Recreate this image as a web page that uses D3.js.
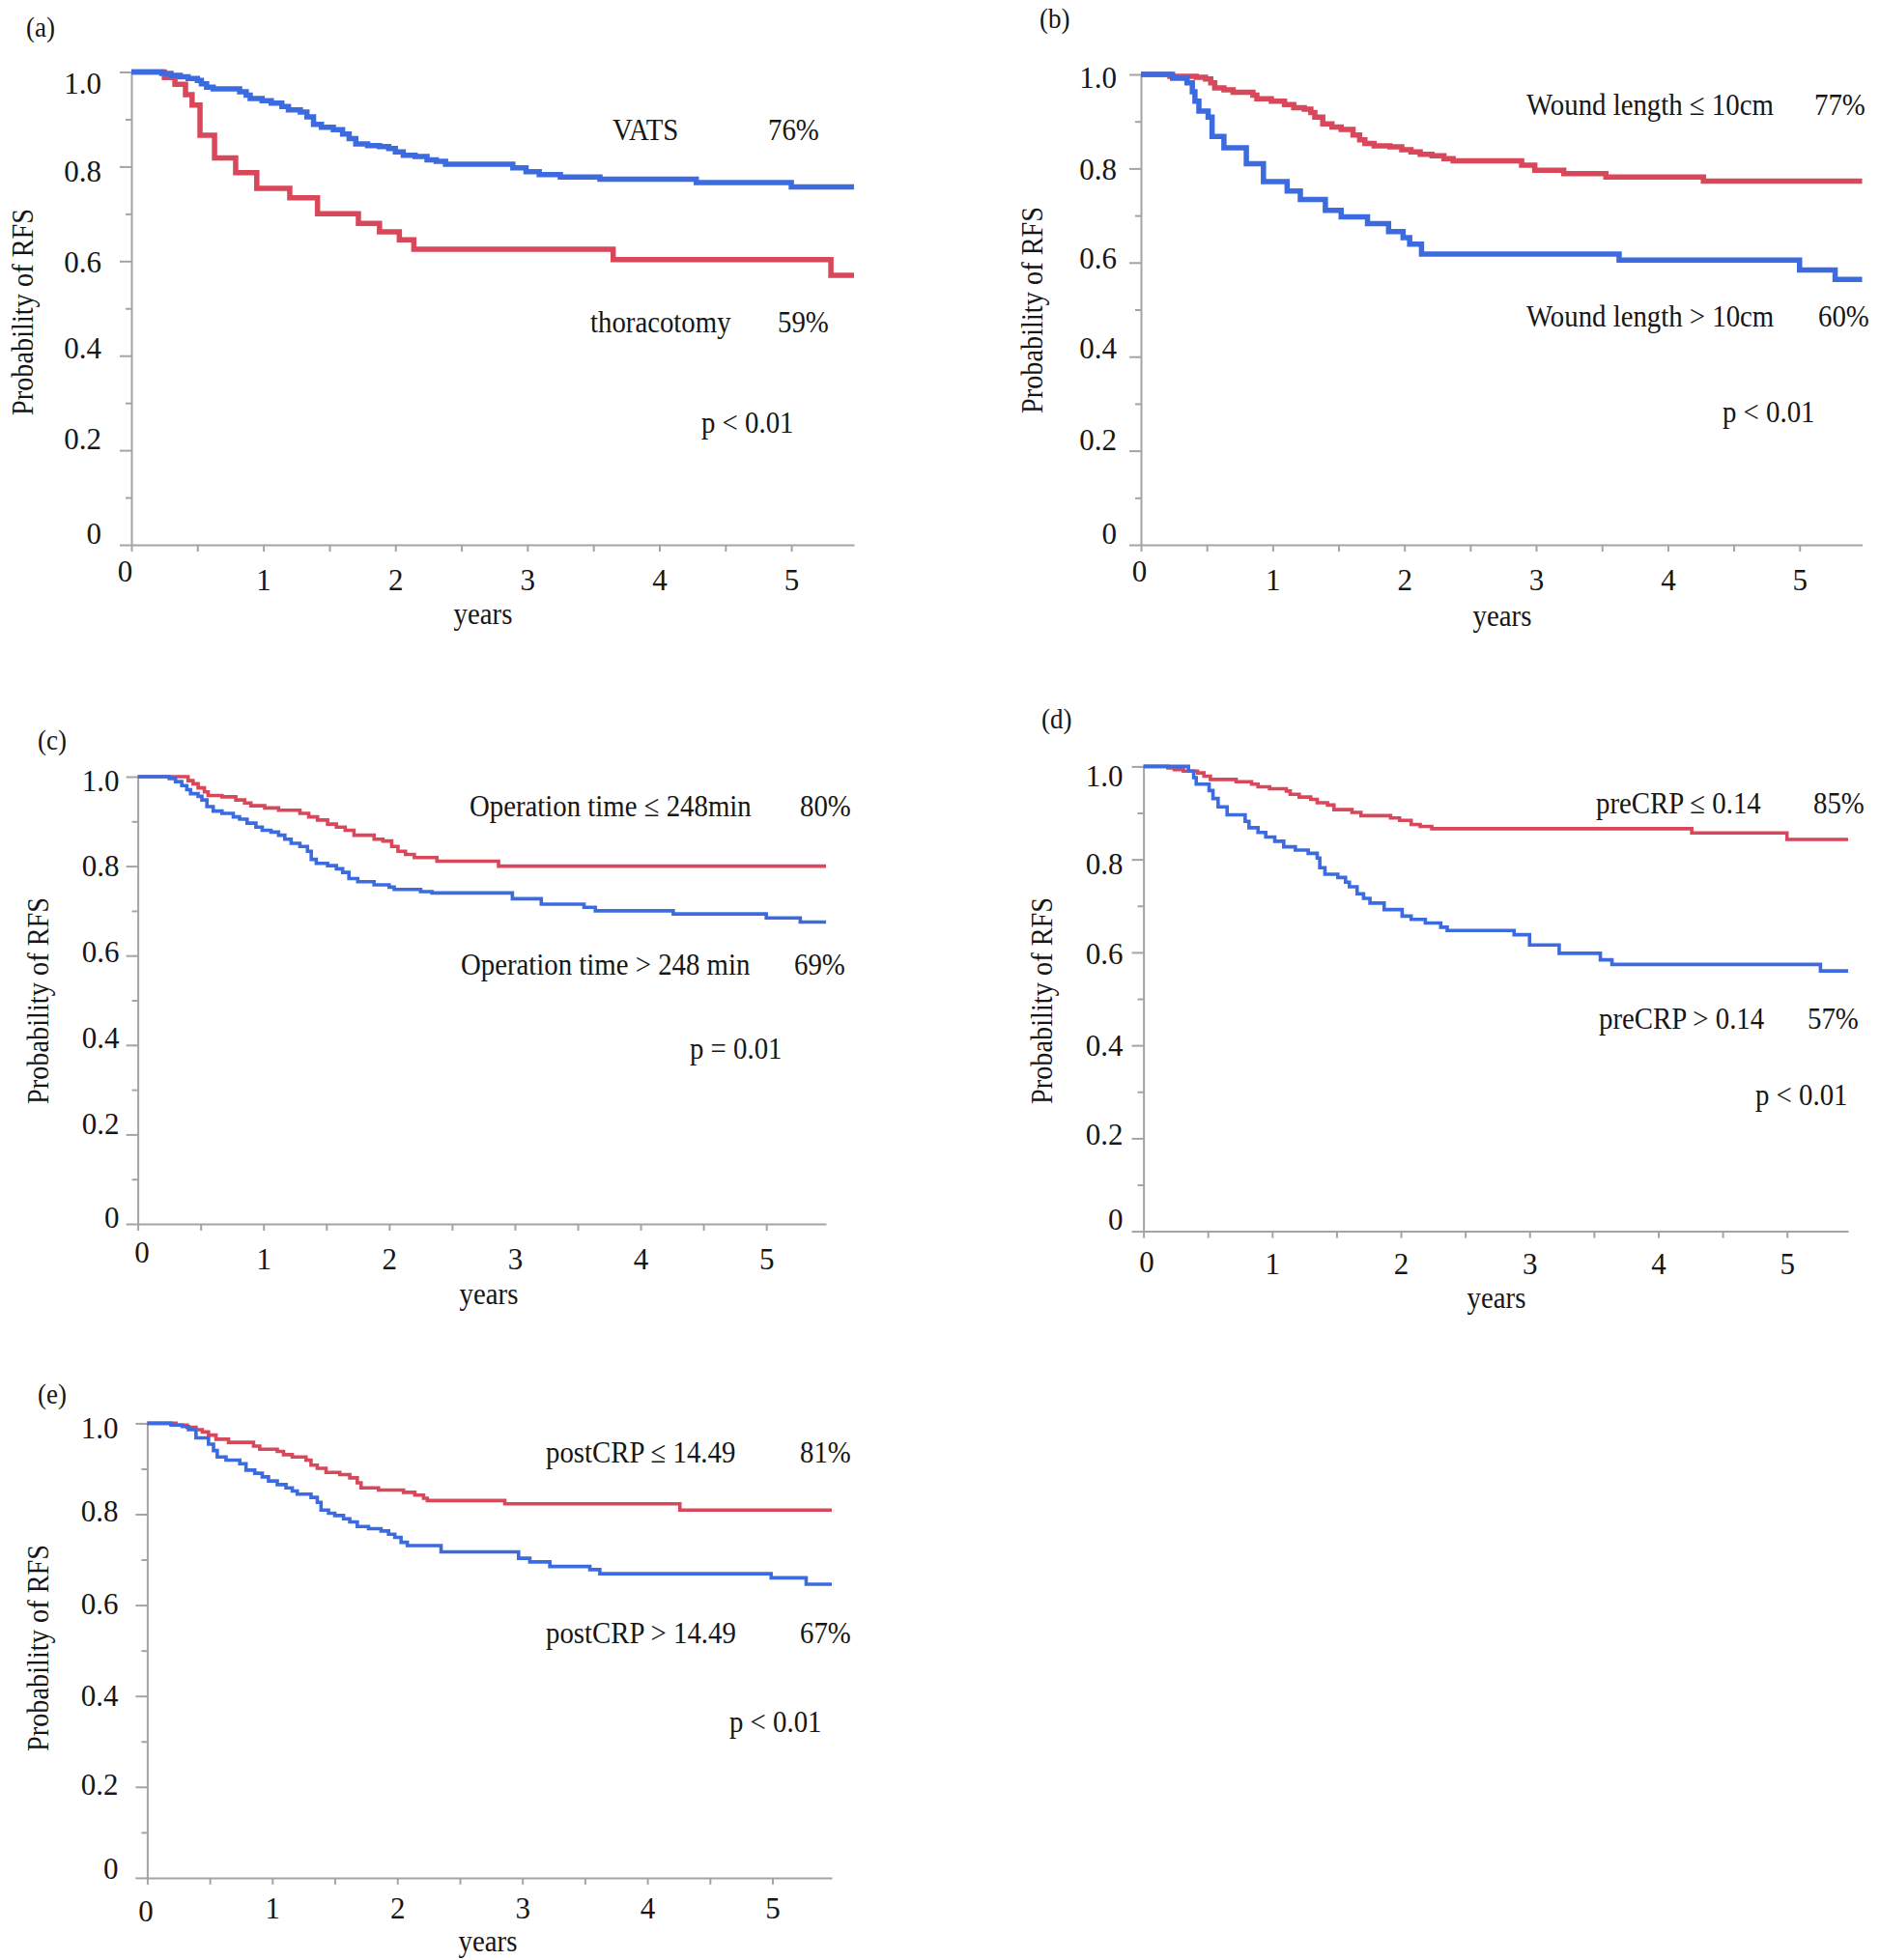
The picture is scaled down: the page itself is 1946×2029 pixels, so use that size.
<!DOCTYPE html>
<html><head><meta charset="utf-8">
<script src="https://cdn.jsdelivr.net/npm/d3@7"></script>
<style>
html,body{margin:0;padding:0;background:#fff;}
svg{display:block;font-family:"Liberation Serif","Times New Roman",serif;}
</style></head><body>
<svg id="chart" width="1946" height="2029"></svg>
<script>
// ---------------- DATA ----------------
const xMax = 5.475;
const xTickValues = [0,0.5,1,1.5,2,2.5,3,3.5,4,4.5,5];
const xTickLabels = ['0','1','2','3','4','5'];
const yTickValues = [0,0.1,0.2,0.3,0.4,0.5,0.6,0.7,0.8,0.9,1.0];
const yTickLabels = ['0','0.2','0.4','0.6','0.8','1.0'];
const yTitle = 'Probability of RFS';
const xTitle = 'years';
const panelIds = ['(a)','(b)','(c)','(d)','(e)'];

// (a) VATS vs thoracotomy
const vatsT = [0,0.23,0.30,0.37,0.43,0.50,0.53,0.57,0.62,0.82,0.87,0.90,0.99,1.06,1.14,1.19,1.28,1.33,1.38,1.44,1.53,1.60,1.65,1.70,1.79,1.88,1.95,2.00,2.06,2.15,2.24,2.31,2.38,2.89,2.99,3.09,3.25,3.55,4.28,5.00];
const vatsS = [1,0.997,0.993,0.99,0.986,0.982,0.975,0.968,0.964,0.958,0.951,0.944,0.939,0.934,0.927,0.920,0.915,0.905,0.889,0.883,0.878,0.869,0.859,0.848,0.844,0.842,0.838,0.831,0.824,0.821,0.814,0.811,0.805,0.797,0.789,0.783,0.778,0.773,0.766,0.757];
const thorT = [0,0.25,0.33,0.41,0.46,0.52,0.63,0.79,0.95,1.20,1.41,1.72,1.88,2.03,2.14,3.65,5.30];
const thorS = [1,0.988,0.974,0.952,0.93,0.866,0.818,0.787,0.754,0.734,0.70,0.68,0.662,0.645,0.625,0.603,0.57];
const legendA = ['VATS','thoracotomy'];
const pctA = ['76%','59%'];
const pA = 'p < 0.01';

// (b) Wound length
const woundLeT = [0,0.22,0.42,0.49,0.53,0.56,0.63,0.70,0.85,0.88,0.99,1.09,1.16,1.24,1.29,1.32,1.38,1.45,1.52,1.61,1.66,1.70,1.77,1.89,1.98,2.05,2.12,2.21,2.30,2.37,2.89,2.99,3.21,3.53,4.27];
const woundLeS = [1,0.996,0.994,0.990,0.982,0.971,0.967,0.962,0.956,0.948,0.943,0.936,0.929,0.926,0.919,0.909,0.895,0.888,0.883,0.871,0.861,0.853,0.848,0.846,0.840,0.835,0.830,0.827,0.821,0.816,0.807,0.796,0.789,0.782,0.773];
const woundGtT = [0,0.24,0.35,0.39,0.41,0.44,0.51,0.54,0.63,0.80,0.93,1.11,1.21,1.40,1.52,1.72,1.88,1.99,2.04,2.13,3.63,5.00,5.27];
const woundGtS = [1,0.992,0.982,0.963,0.943,0.922,0.909,0.868,0.844,0.81,0.772,0.752,0.734,0.711,0.697,0.683,0.666,0.653,0.639,0.618,0.605,0.584,0.564];
const legendB = ['Wound length \u2264 10cm','Wound length > 10cm'];
const pctB = ['77%','60%'];
const pB = 'p < 0.01';

// (c) Operation time
const opLeT = [0,0.40,0.44,0.48,0.53,0.56,0.67,0.78,0.85,0.90,1.01,1.12,1.29,1.36,1.43,1.51,1.58,1.65,1.72,1.88,1.95,2.02,2.07,2.13,2.20,2.38,2.87];
const opLeS = [1,0.991,0.984,0.975,0.966,0.958,0.955,0.948,0.941,0.935,0.930,0.925,0.918,0.910,0.903,0.894,0.887,0.880,0.869,0.860,0.856,0.844,0.833,0.826,0.819,0.811,0.80];
const opGtT = [0,0.25,0.30,0.35,0.39,0.42,0.48,0.51,0.55,0.60,0.67,0.76,0.81,0.87,0.94,0.99,1.06,1.12,1.17,1.22,1.29,1.35,1.38,1.42,1.51,1.58,1.63,1.68,1.75,1.88,2.00,2.04,2.25,2.34,2.98,3.21,3.55,3.64,4.26,5.00,5.27];
const opGtS = [1,0.996,0.989,0.98,0.971,0.962,0.956,0.948,0.933,0.923,0.918,0.910,0.905,0.896,0.887,0.880,0.876,0.869,0.860,0.851,0.844,0.833,0.815,0.806,0.801,0.794,0.786,0.772,0.765,0.758,0.753,0.748,0.743,0.740,0.727,0.715,0.708,0.700,0.693,0.684,0.675];
const legendC = ['Operation time \u2264 248min','Operation time > 248 min'];
const pctC = ['80%','69%'];
const pC = 'p = 0.01';

// (d) preCRP
const preLeT = [0,0.19,0.24,0.31,0.42,0.47,0.52,0.72,0.84,0.89,0.98,1.11,1.14,1.21,1.30,1.35,1.43,1.48,1.62,1.69,1.92,1.99,2.08,2.15,2.24,4.26,5.00];
const preLeS = [1,0.997,0.993,0.99,0.986,0.979,0.972,0.967,0.962,0.956,0.952,0.947,0.94,0.934,0.929,0.922,0.917,0.907,0.901,0.894,0.889,0.884,0.875,0.871,0.866,0.857,0.843];
const preGtT = [0,0.35,0.39,0.41,0.51,0.54,0.58,0.65,0.79,0.82,0.89,0.95,1.02,1.09,1.18,1.28,1.35,1.37,1.41,1.51,1.57,1.60,1.66,1.71,1.76,1.87,2.01,2.08,2.19,2.31,2.36,2.88,3.00,3.23,3.55,3.64,5.26];
const preGtS = [1,0.99,0.976,0.962,0.948,0.931,0.913,0.896,0.882,0.868,0.858,0.848,0.839,0.827,0.82,0.813,0.803,0.782,0.768,0.761,0.751,0.741,0.726,0.716,0.706,0.692,0.678,0.671,0.663,0.654,0.647,0.638,0.616,0.598,0.584,0.574,0.560];
const legendD = ['preCRP \u2264 0.14','preCRP > 0.14'];
const pctD = ['85%','57%'];
const pD = 'p < 0.01';

// (e) postCRP
const postLeT = [0,0.23,0.32,0.39,0.44,0.49,0.55,0.65,0.85,0.90,1.04,1.09,1.16,1.27,1.31,1.36,1.43,1.54,1.62,1.68,1.71,1.85,2.05,2.14,2.21,2.24,2.86,4.26];
const postLeS = [1,0.996,0.991,0.986,0.981,0.974,0.965,0.958,0.950,0.943,0.938,0.931,0.926,0.919,0.908,0.901,0.892,0.887,0.880,0.869,0.858,0.853,0.848,0.842,0.835,0.830,0.823,0.809];
const postGtT = [0,0.19,0.28,0.33,0.39,0.49,0.53,0.56,0.63,0.74,0.79,0.86,0.92,0.97,1.04,1.11,1.16,1.20,1.31,1.36,1.39,1.45,1.50,1.57,1.62,1.68,1.77,1.87,1.93,1.98,2.03,2.08,2.35,2.97,3.06,3.22,3.54,3.62,4.99,5.27];
const postGtS = [1,0.996,0.993,0.986,0.968,0.954,0.94,0.926,0.919,0.911,0.897,0.89,0.882,0.873,0.865,0.858,0.851,0.844,0.837,0.826,0.809,0.802,0.797,0.79,0.783,0.773,0.768,0.763,0.756,0.749,0.738,0.731,0.717,0.703,0.695,0.685,0.678,0.669,0.660,0.646];
const legendE = ['postCRP \u2264 14.49','postCRP > 14.49'];
const pctE = ['81%','67%'];
const pE = 'p < 0.01';

// ---------------- STYLE / LAYOUT ----------------
const BLUE = '#3c6be0', RED = '#d8475a', AXIS = '#a4a4a4', TEXT = '#161616';
const SX = 0.9; // horizontal condensing of the serif text, as in the original

const panels = [
  { id: panelIds[0], left:136, top:74.5, bottom:564, right:884, sw:5.5,
    series:[{t:thorT,s:thorS,c:RED},{t:vatsT,s:vatsS,c:BLUE}],
    legend:legendA, pct:pctA, p:pA,
    legPos:[[634,134],[611,333]], pctPos:[[795,134],[805,333]], pPos:[726,437],
    idPos:[27,27], yTitlePos:[23,323], xTitlePos:[500,635],
    yLabPad:19, yLabOff:[-12,-12,-9,0,4,11], xLabY:36, zeroOff:[-7,-9] },
  { id: panelIds[1], left:1181, top:77, bottom:564, right:1927.5, sw:5.5,
    series:[{t:woundLeT,s:woundLeS,c:RED},{t:woundGtT,s:woundGtS,c:BLUE}],
    legend:legendB, pct:pctB, p:pB,
    legPos:[[1580,108],[1580,327]], pctPos:[[1878,108],[1882,327]], pPos:[1783,426],
    idPos:[1076,18], yTitlePos:[1068,321], xTitlePos:[1555,637],
    yLabPad:13, yLabOff:[-12,-12,-10,-5,0,3], xLabY:36, zeroOff:[-2,-9] },
  { id: panelIds[2], left:142.6, top:804, bottom:1267, right:855, sw:3.6,
    series:[{t:opLeT,s:opLeS,c:RED},{t:opGtT,s:opGtS,c:BLUE}],
    legend:legendC, pct:pctC, p:pC,
    legPos:[[486,834],[477,998]], pctPos:[[828,834],[822,998]], pPos:[714,1085],
    idPos:[39,765], yTitlePos:[39,1036], xTitlePos:[506,1339],
    yLabPad:7, yLabOff:[-7,-12,-8,-5,-1,4], xLabY:36, zeroOff:[4,-7] },
  { id: panelIds[3], left:1183.6, top:793.4, bottom:1274.6, right:1913, sw:3.6,
    series:[{t:preLeT,s:preLeS,c:RED},{t:preGtT,s:preGtS,c:BLUE}],
    legend:legendD, pct:pctD, p:pD,
    legPos:[[1652,831],[1655,1054]], pctPos:[[1877,831],[1871,1054]], pPos:[1817,1133],
    idPos:[1078,743], yTitlePos:[1078,1036], xTitlePos:[1549,1343],
    yLabPad:9, yLabOff:[-13,-5,0,1,4,9], xLabY:34, zeroOff:[3,-2] },
  { id: panelIds[4], left:152.4, top:1473.4, bottom:1943.9, right:861, sw:3.6,
    series:[{t:postLeT,s:postLeS,c:RED},{t:postGtT,s:postGtS,c:BLUE}],
    legend:legendE, pct:pctE, p:pE,
    legPos:[[565,1503],[565,1690]], pctPos:[[828,1503],[828,1690]], pPos:[755,1782],
    idPos:[39,1442], yTitlePos:[39,1706], xTitlePos:[505,2009],
    yLabPad:18, yLabOff:[-10,-3,-1,-2,-4,4], xLabY:31, zeroOff:[-2,3] }
];

// ---------------- DRAW ----------------
const svg = d3.select('#chart');
svg.append('rect').attr('width',1946).attr('height',2029).attr('fill','#fff');

panels.forEach(P => {
  const g = svg.append('g');
  const x = d3.scaleLinear().domain([0, xMax]).range([P.left, P.right]);
  const y = d3.scaleLinear().domain([0, 1]).range([P.bottom, P.top]);

  // y axis minor ticks
  const yMinor = d3.axisLeft(y).tickValues(yTickValues.filter((v,i)=>i%2===1))
      .tickSize(6).tickSizeOuter(0).tickFormat('');
  const gyMin = g.append('g').attr('transform',`translate(${P.left},0)`).call(yMinor);
  gyMin.select('.domain').remove();
  gyMin.selectAll('line').attr('stroke',AXIS).attr('stroke-width',2);

  // y axis major ticks + labels
  const yMajorVals = yTickValues.filter((v,i)=>i%2===0);
  const yMajor = d3.axisLeft(y).tickValues(yMajorVals)
      .tickSize(12).tickSizeOuter(0).tickPadding(P.yLabPad)
      .tickFormat((d,i)=>yTickLabels[i]);
  const gy = g.append('g').attr('transform',`translate(${P.left},0)`).call(yMajor);
  gy.select('.domain').attr('stroke',AXIS).attr('stroke-width',2);
  gy.selectAll('line').attr('stroke',AXIS).attr('stroke-width',2);
  gy.selectAll('text').attr('font-size',31).attr('fill',TEXT)
    .attr('font-family','"Liberation Serif","Times New Roman",serif')
    .attr('dy','0.35em')
    .attr('transform',(d,i)=>`translate(0,${P.yLabOff[i]})`);

  // x axis
  const xAxis = d3.axisBottom(x).tickValues(xTickValues)
      .tickSize(7).tickSizeOuter(0)
      .tickFormat(d => Number.isInteger(d) ? xTickLabels[d] : '');
  const gx = g.append('g').attr('transform',`translate(0,${P.bottom})`).call(xAxis);
  gx.select('.domain').attr('stroke',AXIS).attr('stroke-width',2);
  gx.selectAll('line').attr('stroke',AXIS).attr('stroke-width',2);
  gx.selectAll('text').attr('font-size',31).attr('fill',TEXT)
    .attr('font-family','"Liberation Serif","Times New Roman",serif')
    .attr('y',P.xLabY).attr('dy','0.35em')
    .attr('transform',d => d===0 ? `translate(${P.zeroOff[0]},${P.zeroOff[1]})` : null);

  // KM step curves
  const line = d3.line().x(d=>x(d[0])).y(d=>y(d[1])).curve(d3.curveStepAfter);
  P.series.forEach(S => {
    const pts = S.t.map((t,i)=>[t,S.s[i]]);
    pts.push([xMax, S.s[S.s.length-1]]);
    g.append('path').datum(pts).attr('d',line)
      .attr('fill','none').attr('stroke',S.c).attr('stroke-width',P.sw)
      .attr('stroke-linejoin','miter').attr('stroke-linecap','butt');
  });

  const txt = (s, xx, yy, size, anchor, rot) => g.append('text')
      .attr('transform',`translate(${xx},${yy})${rot?' rotate(-90)':''} scale(${SX},1)`)
      .attr('dy','0.35em')
      .attr('font-size',size).attr('fill',TEXT)
      .attr('text-anchor',anchor||'start').text(s);

  // panel id
  txt(P.id, P.idPos[0], P.idPos[1], 30);
  // legends
  P.legend.forEach((s,i)=>txt(s, P.legPos[i][0], P.legPos[i][1], 32));
  P.pct.forEach((s,i)=>txt(s, P.pctPos[i][0], P.pctPos[i][1], 32));
  txt(P.p, P.pPos[0], P.pPos[1], 32);
  // axis titles
  txt(xTitle, P.xTitlePos[0], P.xTitlePos[1], 32, 'middle');
  txt(yTitle, P.yTitlePos[0], P.yTitlePos[1], 31.5, 'middle', true);
});
</script>
</body></html>
